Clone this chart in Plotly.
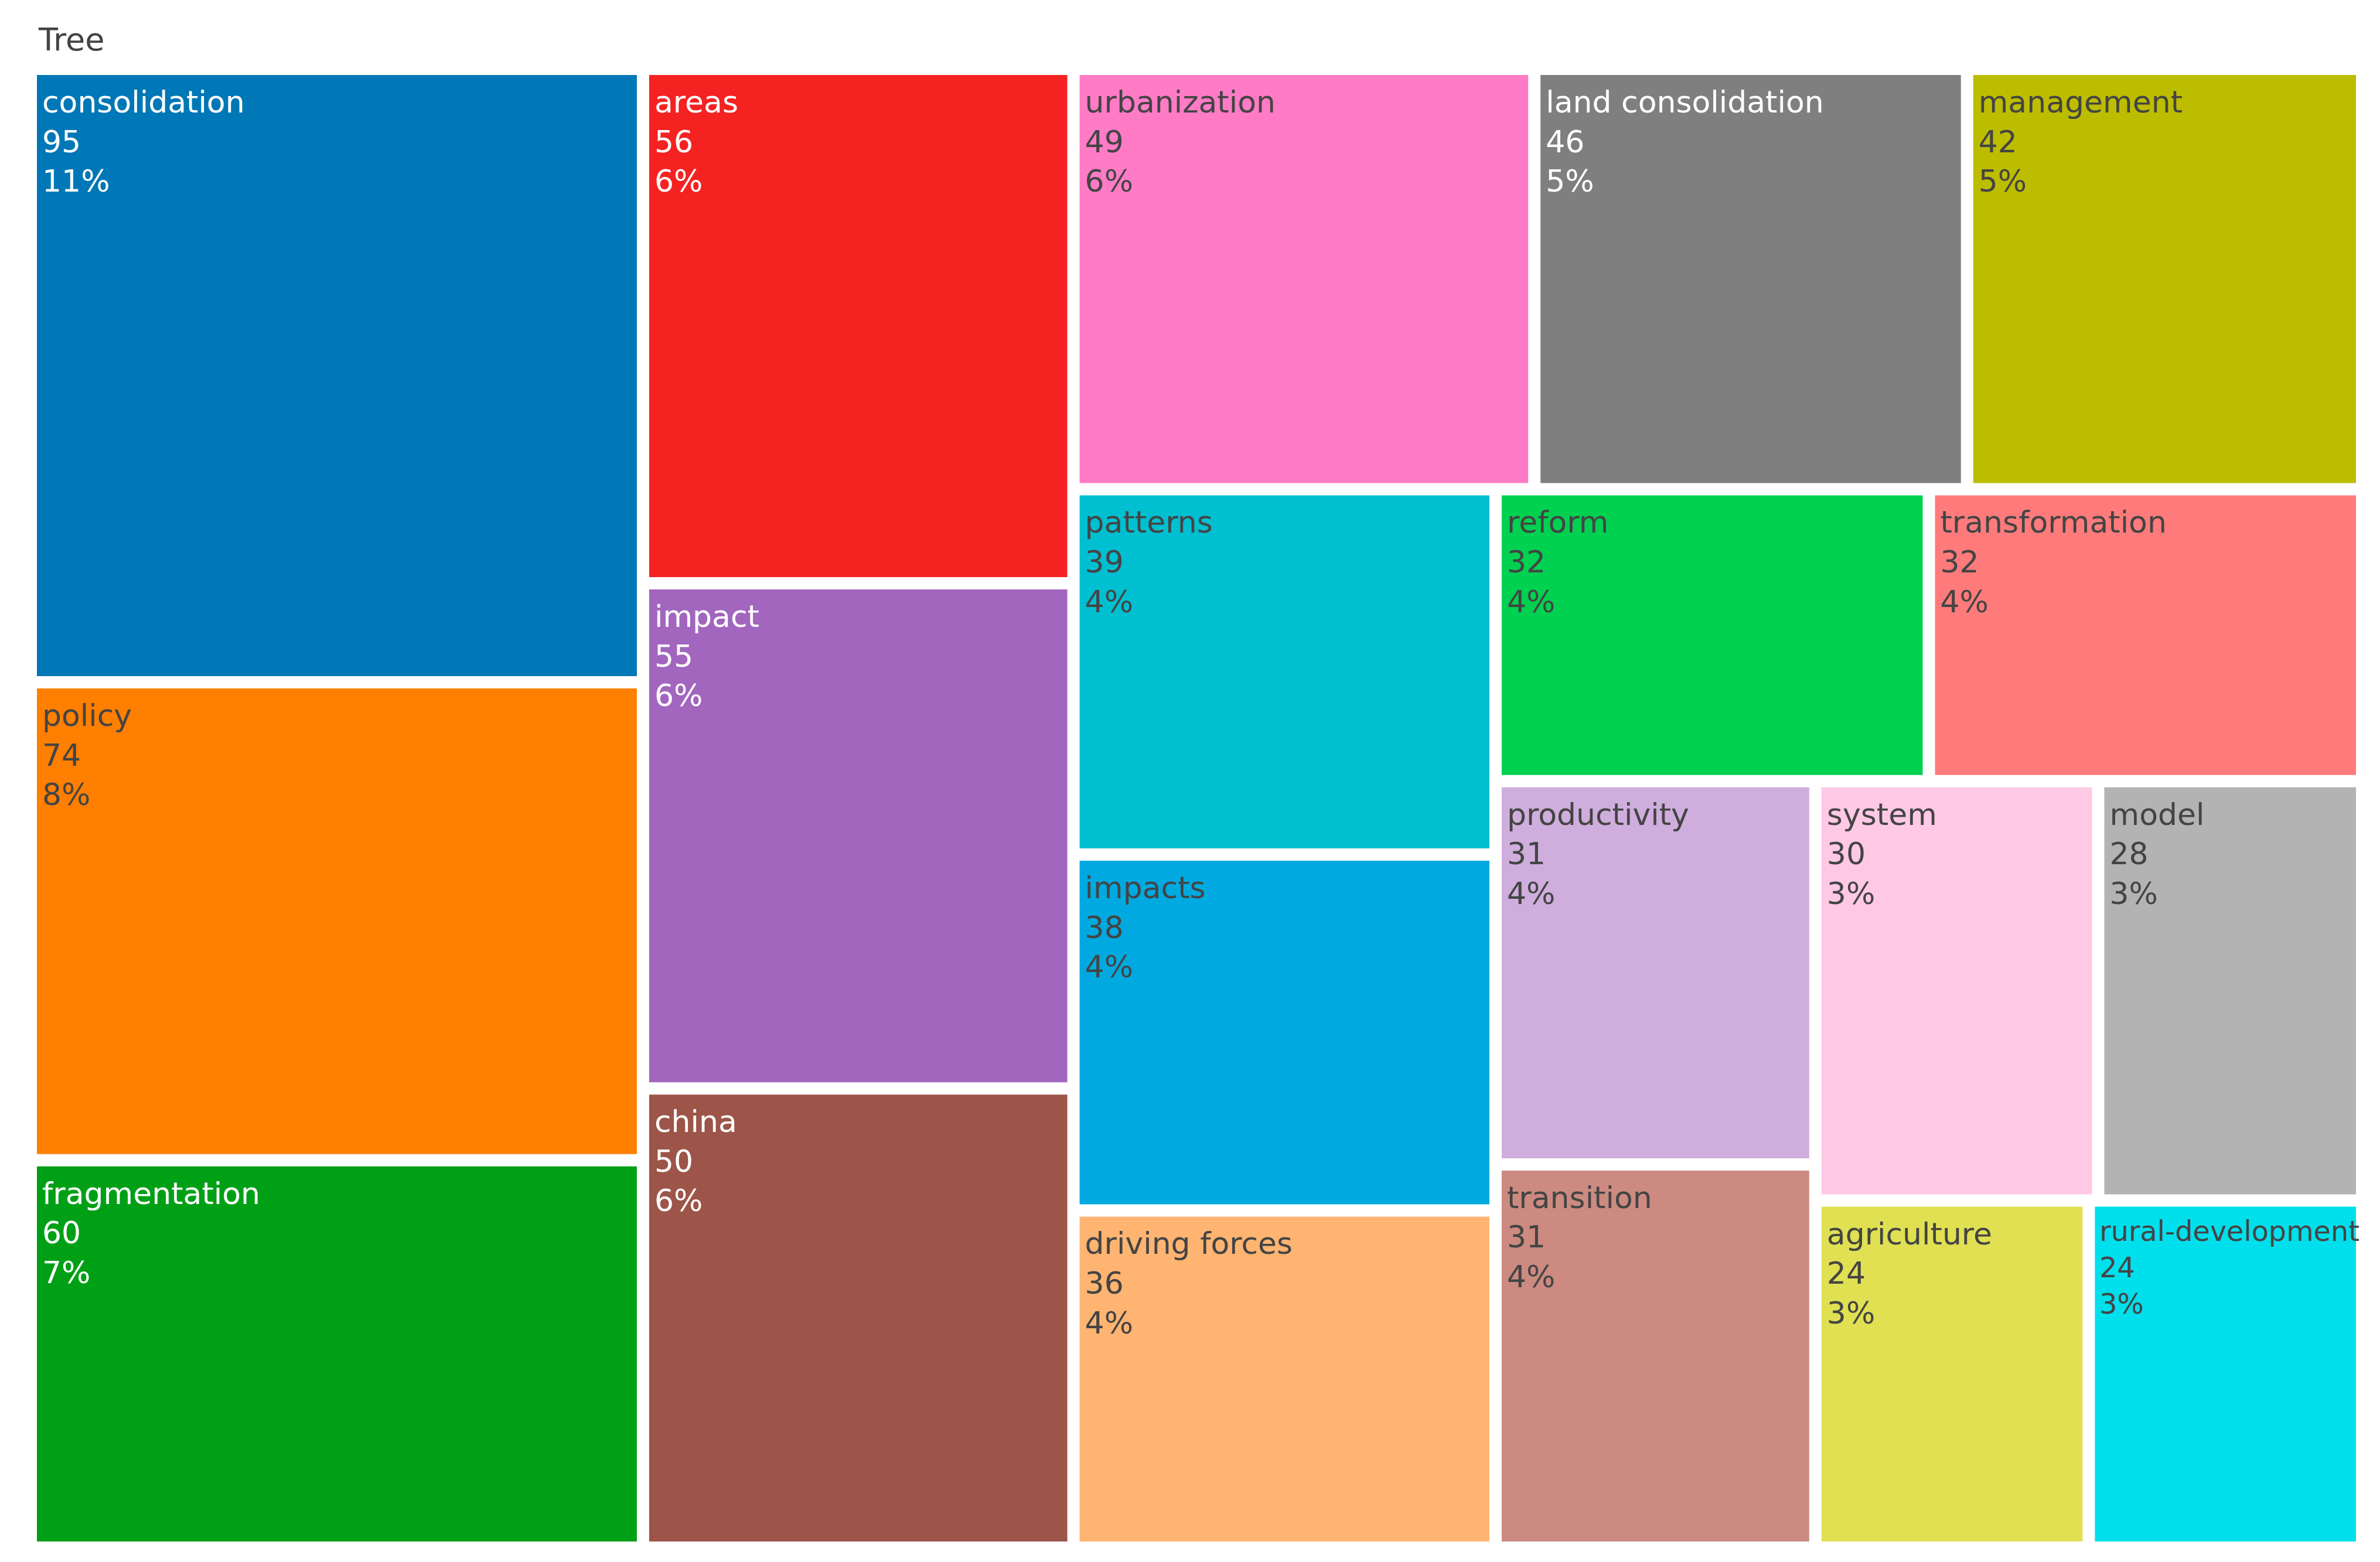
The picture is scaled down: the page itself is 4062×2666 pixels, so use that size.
import plotly.graph_objects as go

# keyword frequencies
labels = ["consolidation", "policy", "fragmentation", "areas", "impact", "china",
          "urbanization", "land consolidation", "management", "patterns", "impacts",
          "reform", "transformation", "driving forces", "productivity", "transition",
          "system", "model", "agriculture", "rural-development"]
values = [95, 74, 60, 56, 55, 50, 49, 46, 42, 39, 38, 32, 32, 36, 31, 31, 30, 28, 24, 24]
colors = ["#0077B6", "#FF7F00", "#00A016", "#F52222", "#A266BE", "#9C5548",
          "#FF7BC6", "#7F7F7F", "#BDBD00", "#00BFD0", "#00A9E0",
          "#00D150", "#FF7B7B", "#FFB472", "#CFAEDD", "#CC8A80",
          "#FFC9E6", "#B3B3B3", "#E0E052", "#00E0EC"]
parents = [""] * len(labels)
light_text = ["consolidation", "fragmentation", "areas", "impact", "china", "land consolidation"]
text_colors = ["white" if l in light_text else "#444" for l in labels]

# little tall spacer so the labels sit in from the tile corner like the original
sp = '<span style="font-size:75px">\u2009</span>'
tmpl = sp + "%{label}<br>" + sp + "%{value}<br>" + sp + "%{percentRoot:.0%}"

fig = go.Figure(go.Treemap(
    labels=labels,
    parents=parents,
    values=values,
    marker=dict(colors=colors, line=dict(color="white", width=18), cornerradius=3,
                pad=dict(t=0, l=0, r=0, b=0)),
    texttemplate=tmpl,
    textposition="top left",
    textfont=dict(size=52, color=text_colors),
    sort=True,
    pathbar=dict(visible=False),
))

fig.update_layout(
    title=dict(text="Tree", x=58 / 4062, xref="container", xanchor="left", y=0.978, yanchor="middle",
               font=dict(size=54, color="#444")),
    font=dict(family="DejaVu Sans, Open Sans, sans-serif", color="#444"),
    width=4062, height=2666,
    margin=dict(l=46, r=40, t=111, b=34),
    paper_bgcolor="white",
)

fig.write_html("out.html")
